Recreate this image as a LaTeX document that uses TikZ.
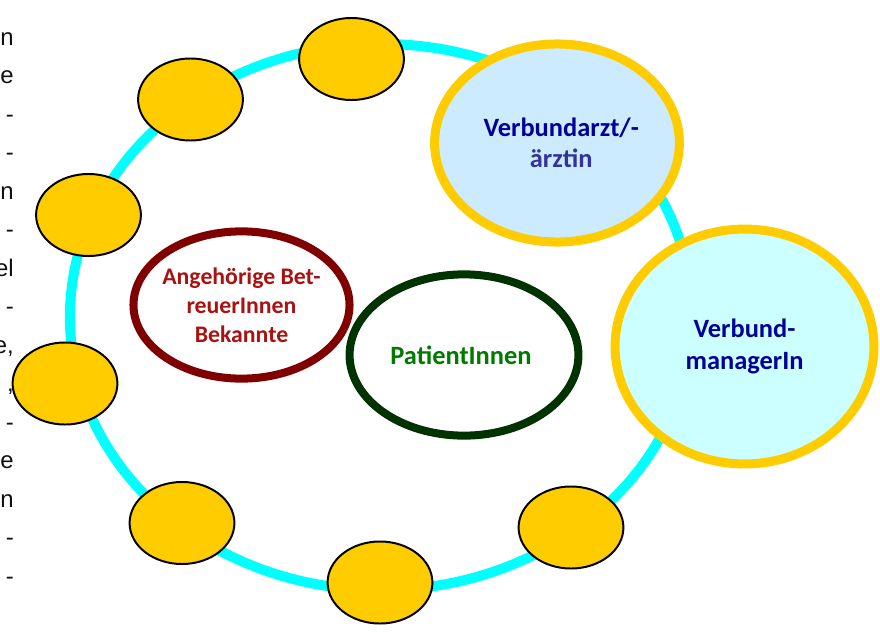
\documentclass[tikz,border=0pt]{standalone}
\usepackage{fontspec}
\setsansfont{Carlito}
\newfontfamily\pagefont{Liberation Sans}
\usepackage{xcolor}
\usepackage{tikz}
\usetikzlibrary{positioning, shapes.geometric}
\definecolor{netCyan}{HTML}{00FFFF}
\definecolor{netYellow}{HTML}{FFCC00}
\definecolor{netNavy}{HTML}{000099}
\definecolor{netIndigo}{HTML}{333399}
\definecolor{netSky}{HTML}{CCEBFF}
\definecolor{netIce}{HTML}{CCFFFF}
\definecolor{netMaroon}{HTML}{800000}
\definecolor{netRed}{HTML}{AA1111}
\definecolor{netForest}{HTML}{003300}
\definecolor{netGreen}{HTML}{007A00}
\definecolor{netInk}{HTML}{111111}

\begin{document}
\begin{tikzpicture}[
  x=0.025cm, y=-0.025cm,
  every node/.style={font=\sffamily\bfseries},
  ring/.style={
    ellipse, minimum width=15.55cm, minimum height=13.65cm,
    draw=netCyan, line width=7.1pt
  },
  member/.style={
    ellipse, minimum width=2.62cm, minimum height=2.05cm,
    draw=black, line width=1.4pt, fill=netYellow
  },
  network/.style={
    ellipse, draw=netYellow, line width=6.4pt, text=netNavy, align=center,
    font=\sffamily\bfseries\fontsize{18.8}{24}\selectfont
  },
  circlebox/.style={
    ellipse, line width=5.7pt, fill=white, align=center
  },
  pagetext/.style={
    font=\pagefont\fontsize{17}{20}\selectfont, text=netInk,
    anchor=base east, inner sep=0pt
  },
]
\useasboundingbox (0,0) rectangle (880,632);

% Remains of the page text on the left
\foreach \t [count=\i] in {n,e,-,-,n,-,el,-,{e,},{,},-,e,n,-,-}
  \node[pagetext] (page\i) at (14,{6.5+38.5*\i}) {\t};

% Cyan ring of the network
\node[ring] (net) at (381,317) {};

% Inner circles
\node[circlebox, draw=netMaroon, minimum width=5.4cm, minimum height=3.68cm] (kin) at (241.5,305) {};
\node[text=netRed, align=center, font=\sffamily\bfseries\fontsize{16.9}{20.6}\selectfont]
  (kintext) at (kin) {Angehörige Bet-\\reuerInnen\\Bekannte};
\node[circlebox, draw=netForest, text=netGreen, minimum width=5.72cm, minimum height=4.03cm,
  font=\sffamily\bfseries\fontsize{18.8}{22.8}\selectfont] (pat) at (464,355) {
  PatientInnen
};

% Members on the ring
\node[member] (m1) at (351.5,59) {};
\node[member] (m2) at (190.5,99.5) {};
\node[member] (m3) at (88.5,215) {};
\node[member] (m4) at (65,383.5) {};
\node[member] (m5) at (182,523) {};
\node[member] (m6) at (380,582.5) {};
\node[member] (m7) at (571,527.5) {};

% Network roles
\node[network, fill=netSky, minimum width=6.05cm, minimum height=4.95cm,
  font=\sffamily\bfseries\fontsize{18.8}{25}\selectfont] (doc) at (557,143) {
  \hspace*{6pt}Verbundarzt/-\\[-3pt]\hspace*{6pt}{\color{netIndigo}ärztin}
};
\node[network, fill=netIce, minimum width=6.47cm, minimum height=5.87cm,
  font=\sffamily\bfseries\fontsize{18.8}{22.8}\selectfont] (mgr) at (744.5,346.5) {
  Verbund-\\managerIn
};

\end{tikzpicture}
\end{document}
